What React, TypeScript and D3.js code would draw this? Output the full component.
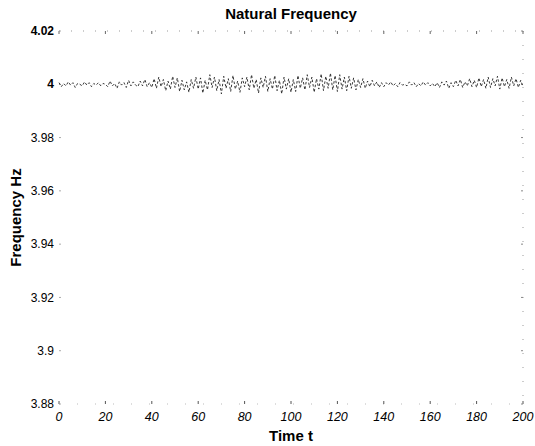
import React, { useEffect, useRef } from 'react';
import * as d3 from 'd3';

// deviation from 4 Hz, in units of 0.0003 Hz, one value per time step t = 0..200
const devSeg1 = [2, -3, 1, -2, 3, -1, 2, -4, 1, 0, -2, 3, -1, 2, -3, 1, -1, 2, -2, 1, 0];
const devSeg2 = [-3, 4, -2, 1, -5, 3, -1, 2, -4, 5, -2, 3, -1, -3, 4, -2, 6, -3, 2, -4];
const devSeg3 = [7, -5, 9, -3, 6, -8, 4, -6, 10, -4, 8, -9, 5, -7, 3, -10, 6, -5, 9, -6];
const devSeg4 = [8, -11, 5, -7, 12, -4, 9, -8, 6, -12, 10, -5, 7, -9, 11, -6, 4, -10, 8, -3];
const devSeg5 = [9, -7, 12, -5, 6, -11, 8, -4, 10, -9, 7, -6, 11, -8, 5, -12, 9, -6, 7, -10];
const devSeg6 = [6, -9, 11, -5, 8, -7, 12, -4, 9, -10, 7, -6, 13, -8, 10, -5, 14, -7, 11, -9];
const devSeg7 = [12, -6, 9, -8, 10, -5, 8, -7, 6, -4, 7, -5, 4, -3, 5, -2, 3, -4, 2, -3];
const devSeg8 = [2, -1, 3, -2, 1, -3, 2, -1, 0, -2, 3, -1, 2, -3, 1, -2, 3, -1, 2, -2];
const devSeg9 = [1, -3, 2, -4, 3, -1, 4, -5, 2, -3, 5, -2, 6, -4, 3, -2, 7, -3, 5, -4];
const devSeg10 = [8, -3, 6, -5, 9, -4, 7, -2, 10, -6, 8, -3, 6, -5, 9, -2, 7, -4, 5, -3];

const xTicks = [0, 20, 40, 60, 80, 100, 120, 140, 160, 180, 200];
const yTicks = [3.88, 3.9, 3.92, 3.94, 3.96, 3.98, 4, 4.02];

const W = 535;
const H = 446;

const App = () => {
  const svgRef = useRef<SVGSVGElement>(null);

  useEffect(() => {
    const svg = d3.select(svgRef.current);
    svg.selectAll('*').remove();

    const margin = { top: 31, right: 12, bottom: 42, left: 59 };
    const width = W - margin.left - margin.right;
    const height = H - margin.top - margin.bottom;

    const devs = [
      ...devSeg1, ...devSeg2, ...devSeg3, ...devSeg4, ...devSeg5,
      ...devSeg6, ...devSeg7, ...devSeg8, ...devSeg9, ...devSeg10,
    ];
    const data = devs.map((d, i) => ({ t: i, f: 4 + d * 0.0003 }));

    const x = d3.scaleLinear().domain([0, 200]).range([0, width]);
    const y = d3.scaleLinear().domain([3.88, 4.02]).range([height, 0]);

    const g = svg.append('g').attr('transform', `translate(${margin.left},${margin.top})`);

    // faded box, like the scanned original (only top and right leave traces)
    g.append('line')
      .attr('x1', 0).attr('x2', width).attr('y1', 0).attr('y2', 0)
      .attr('stroke', '#999').attr('stroke-dasharray', '1,11');
    g.append('line')
      .attr('x1', width).attr('x2', width).attr('y1', 0).attr('y2', height)
      .attr('stroke', '#999').attr('stroke-dasharray', '1,13');
    g.append('line')
      .attr('x1', 0).attr('x2', width).attr('y1', height).attr('y2', height)
      .attr('stroke', '#bbb').attr('stroke-dasharray', '1,17');

    const font = 'Liberation Sans, Arial, sans-serif';

    // x ticks
    xTicks.forEach((t) => {
      g.append('line')
        .attr('x1', x(t)).attr('x2', x(t))
        .attr('y1', height).attr('y2', height - 3)
        .attr('stroke', '#555');
      g.append('line')
        .attr('x1', x(t)).attr('x2', x(t))
        .attr('y1', 0).attr('y2', 3)
        .attr('stroke', '#666');
      g.append('text')
        .attr('x', x(t))
        .attr('y', height + 17)
        .attr('text-anchor', 'middle')
        .attr('font-family', font)
        .attr('font-size', 12.5)
        .attr('font-style', 'italic')
        .text(t);
    });

    // y ticks
    yTicks.forEach((v) => {
      g.append('line')
        .attr('x1', 0).attr('x2', 2)
        .attr('y1', y(v)).attr('y2', y(v))
        .attr('stroke', '#aaa');
      g.append('line')
        .attr('x1', width).attr('x2', width - 2)
        .attr('y1', y(v)).attr('y2', y(v))
        .attr('stroke', '#888');
      g.append('text')
        .attr('x', -5)
        .attr('y', y(v))
        .attr('dy', '0.35em')
        .attr('text-anchor', 'end')
        .attr('font-family', font)
        .attr('font-size', 12)
        .attr('font-weight', v >= 4 ? 'bold' : 'normal')
        .text(d3.format('~g')(v));
    });

    const line = d3.line<{ t: number; f: number }>()
      .x((d) => x(d.t))
      .y((d) => y(d.f));

    g.append('path')
      .datum(data)
      .attr('fill', 'none')
      .attr('stroke', '#222')
      .attr('stroke-width', 0.9)
      .attr('stroke-dasharray', '2.5,2')
      .attr('d', line);

    svg.append('text')
      .attr('x', margin.left + width / 2)
      .attr('y', 19)
      .attr('text-anchor', 'middle')
      .attr('font-family', font)
      .attr('font-size', 15)
      .attr('font-weight', 'bold')
      .text('Natural Frequency');

    svg.append('text')
      .attr('x', margin.left + width / 2)
      .attr('y', 441)
      .attr('text-anchor', 'middle')
      .attr('font-family', font)
      .attr('font-size', 15)
      .attr('font-weight', 'bold')
      .text('Time t');

    svg.append('text')
      .attr('transform', `translate(21,${margin.top + height / 2}) rotate(-90)`)
      .attr('text-anchor', 'middle')
      .attr('font-family', font)
      .attr('font-size', 15)
      .attr('font-weight', 'bold')
      .text('Frequency Hz');
  }, []);

  return (
    <svg
      ref={svgRef}
      width={W}
      height={H}
      style={{ position: 'absolute', left: 0, top: 0, background: '#fff' }}
      aria-label="Natural Frequency"
    />
  );
};

export default App;
